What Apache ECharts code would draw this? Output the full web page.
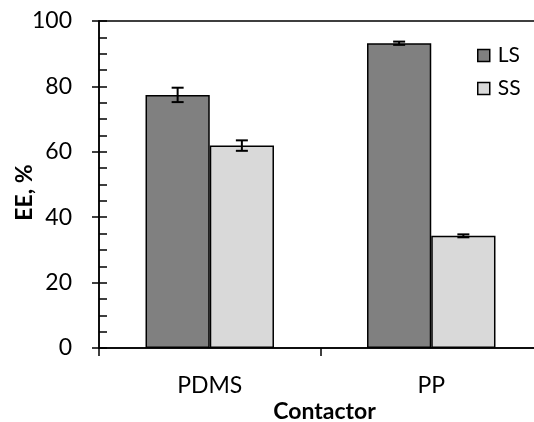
<!DOCTYPE html>
<html>
<head>
<meta charset="utf-8">
<style>
  html, body { margin: 0; padding: 0; background: #fff; }
  #chart { width: 534px; height: 422px; }
</style>
<script src="https://cdn.jsdelivr.net/npm/echarts@6/dist/echarts.min.js"></script>
</head>
<body>
<div id="chart"></div>
<script>
// Extraction efficiency by contactor type
const categories = ['PDMS', 'PP'];
const seriesNames = ['LS', 'SS'];
const lsValues = [77.4, 93.2];
const ssValues = [61.9, 34.3];
const lsErrors = [2.2, 0.5];
const ssErrors = [1.6, 0.45];
const yTicks = [0, 20, 40, 60, 80, 100];

const FONT = 'Lato';
const BAR_RATIO = 0.29;           // each bar's share of the category band
const colors = ['#808080', '#d9d9d9'];

const chart = echarts.init(document.getElementById('chart'), null, { renderer: 'canvas' });

function errorSeries(values, errors, side) {
  return {
    type: 'custom',
    z: 5,
    silent: true,
    data: values.map((v, i) => [i, v, errors[i]]),
    renderItem: function (params, api) {
      const i = api.value(0), v = api.value(1), e = api.value(2);
      const band = api.size([1, 0])[0];
      const center = api.coord([i, v]);
      const x = center[0] + side * band * BAR_RATIO / 2;
      const hi = api.coord([i, v + e])[1];
      const lo = api.coord([i, v - e])[1];
      const cap = 6;
      const style = { stroke: '#000', lineWidth: 2, fill: null };
      return {
        type: 'group',
        children: [
          { type: 'line', shape: { x1: x, y1: hi, x2: x, y2: lo }, style },
          { type: 'line', shape: { x1: x - cap, y1: hi, x2: x + cap, y2: hi }, style },
          { type: 'line', shape: { x1: x - cap, y1: lo, x2: x + cap, y2: lo }, style }
        ]
      };
    }
  };
}

const axisLineStyle = { color: '#000', width: 1.5 };

chart.setOption({
  animation: false,
  textStyle: { fontFamily: FONT },
  grid: {
    left: 99, top: 21, width: 443, bottom: 74,
    outerBoundsMode: 'none',
    containLabel: false,
    show: true, borderColor: '#000', borderWidth: 1.5, backgroundColor: 'transparent'
  },
  legend: {
    orient: 'vertical',
    left: 477, top: 45,
    padding: 0,
    itemWidth: 12, itemHeight: 12, itemGap: 12,
    icon: 'rect',
    data: seriesNames,
    textStyle: { fontFamily: FONT, fontSize: 21, color: '#000', padding: [0, 0, 0, 3] },
    itemStyle: { borderColor: '#000', borderWidth: 1.5 }
  },
  xAxis: {
    type: 'category',
    data: categories,
    name: 'Contactor',
    nameLocation: 'middle',
    nameGap: 52,
    nameMoveOverlap: false,
    nameTextStyle: { fontFamily: FONT, fontWeight: 'bold', fontSize: 23, color: '#000', padding: [0, 0, 0, 8] },
    axisLine: { lineStyle: axisLineStyle },
    axisTick: { show: true, length: 8, lineStyle: axisLineStyle },
    axisLabel: { fontFamily: FONT, fontSize: 23, color: '#000', margin: 26 },
    splitLine: { show: false }
  },
  yAxis: [{
    type: 'value',
    min: yTicks[0], max: yTicks[yTicks.length - 1], interval: 20,
    name: 'EE, %',
    nameLocation: 'middle',
    nameGap: 63,
    nameMoveOverlap: false,
    nameRotate: 90,
    nameTextStyle: { fontFamily: FONT, fontWeight: 'bold', fontSize: 23, color: '#000', padding: [0, 16, 0, 0] },
    axisLine: { show: true, lineStyle: axisLineStyle },
    axisTick: { show: true, length: 7, lineStyle: axisLineStyle },
    axisLabel: { fontFamily: FONT, fontSize: 23, color: '#000', margin: 27 },
    splitLine: { show: false }
  }, {
    type: 'value',
    position: 'left',
    min: yTicks[0], max: yTicks[yTicks.length - 1], interval: 20,
    axisLine: { show: false },
    axisTick: { show: true, inside: true, length: 8, lineStyle: axisLineStyle },
    minorTick: { show: true, splitNumber: 4, length: 8, lineStyle: axisLineStyle },
    axisLabel: { show: false },
    splitLine: { show: false }
  }],
  series: [
    {
      name: seriesNames[0], type: 'bar', data: lsValues,
      barWidth: (BAR_RATIO * 100) + '%', barGap: '0%',
      itemStyle: { color: colors[0], borderColor: '#000', borderWidth: 1.5 }
    },
    {
      name: seriesNames[1], type: 'bar', data: ssValues,
      barWidth: (BAR_RATIO * 100) + '%', barGap: '0%',
      itemStyle: { color: colors[1], borderColor: '#000', borderWidth: 1.5 }
    },
    errorSeries(lsValues, lsErrors, -1),
    errorSeries(ssValues, ssErrors, 1)
  ]
});
</script>
</body>
</html>
